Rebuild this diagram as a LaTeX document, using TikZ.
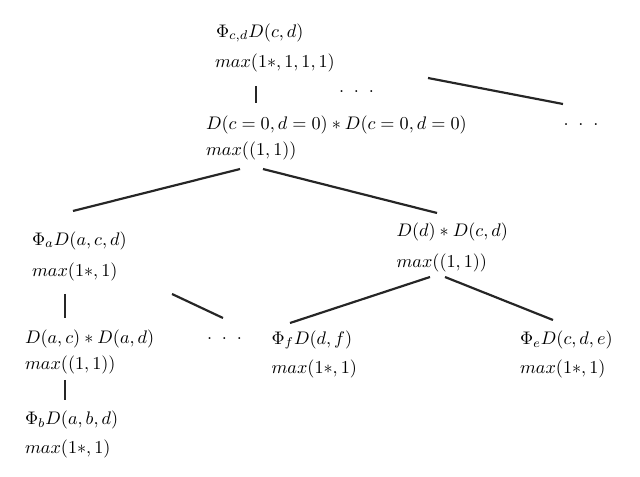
\documentclass[tikz,border=0pt]{standalone}
\begin{document}
\begin{tikzpicture}[x=0.55pt,y=-0.55pt,
  lbl/.style={anchor=west,inner sep=0pt,outer sep=0pt},
  edge/.style={line width=1.2pt,draw=black!85},
  dotsnode/.style={anchor=center,inner sep=0pt}]
\useasboundingbox (0,0) rectangle (640,477);
% node 1
\node[lbl] (n1a) at (216,33) {$\Phi_{c,d}D(c,d)$};
\node[lbl] (n1b) at (215,63) {$max(1*,1,1,1)$};
% node 2
\node[lbl] (n2a) at (206,125) {$D(c=0,d=0)*D(c=0,d=0)$};
\node[lbl] (n2b) at (206,151) {$max((1,1))$};
% node 3
\node[lbl] (n3a) at (32,240.5) {$\Phi_aD(a,c,d)$};
\node[lbl] (n3b) at (32,271.5) {$max(1*,1)$};
% node 4
\node[lbl] (n4a) at (396.5,231.5) {$D(d)*D(c,d)$};
\node[lbl] (n4b) at (396.5,263) {$max((1,1))$};
% node 5
\node[lbl] (n5a) at (25,338.5) {$D(a,c)*D(a,d)$};
\node[lbl] (n5b) at (25,365) {$max((1,1))$};
% node 6
\node[lbl] (n6a) at (25,420) {$\Phi_bD(a,b,d)$};
\node[lbl] (n6b) at (25,448.5) {$max(1*,1)$};
% node 7
\node[lbl] (n7a) at (271.5,340) {$\Phi_fD(d,f)$};
\node[lbl] (n7b) at (271.5,368.5) {$max(1*,1)$};
% node 8
\node[lbl] (n8a) at (520,340) {$\Phi_eD(c,d,e)$};
\node[lbl] (n8b) at (520,368.5) {$max(1*,1)$};
% dots
\node[dotsnode] (d1) at (356.5,92) {$.\hspace{5.4pt}.\hspace{5.4pt}.$};
\node[dotsnode] (d2) at (581,125) {$.\hspace{5.4pt}.\hspace{5.4pt}.$};
\node[dotsnode] (d3) at (224.5,339) {$.\hspace{5.4pt}.\hspace{5.4pt}.$};
% connector end points
\coordinate (c1t) at (256,86);   \coordinate (c1b) at (256,103);
\coordinate (c2t) at (428,78);   \coordinate (c2b) at (563,104);
\coordinate (c3t) at (240,169);  \coordinate (c3b) at (73,211);
\coordinate (c4t) at (263,169);  \coordinate (c4b) at (437,213);
\coordinate (c5t) at (65,294);   \coordinate (c5b) at (65,318);
\coordinate (c6t) at (172,294);  \coordinate (c6b) at (223,318);
\coordinate (c7t) at (65,380);   \coordinate (c7b) at (65,400);
\coordinate (c8t) at (430,277);  \coordinate (c8b) at (290,323);
\coordinate (c9t) at (445,277);  \coordinate (c9b) at (553,320);
\draw[edge] (c1t) -- (c1b);
\draw[edge] (c2t) -- (c2b);
\draw[edge] (c3t) -- (c3b);
\draw[edge] (c4t) -- (c4b);
\draw[edge] (c5t) -- (c5b);
\draw[edge] (c6t) -- (c6b);
\draw[edge] (c7t) -- (c7b);
\draw[edge] (c8t) -- (c8b);
\draw[edge] (c9t) -- (c9b);
\end{tikzpicture}
\end{document}
